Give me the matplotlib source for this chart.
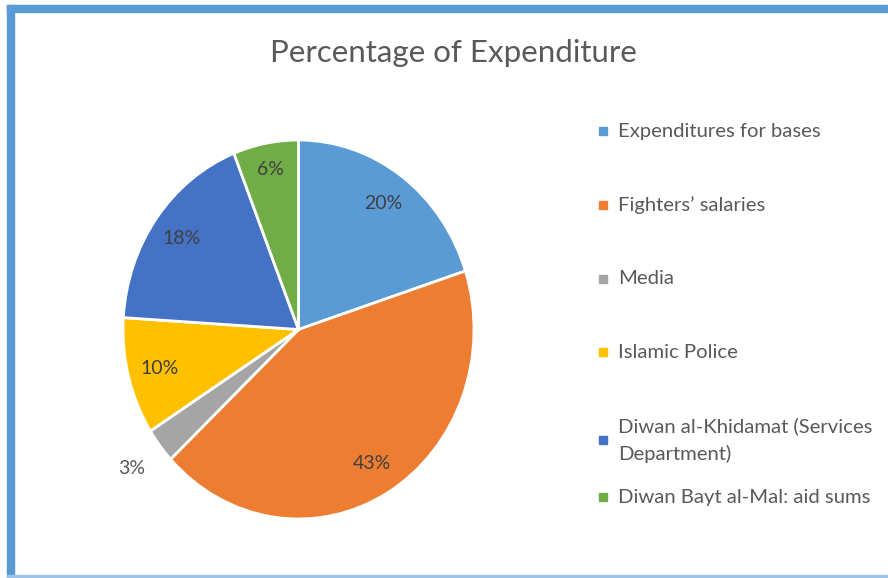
import matplotlib
matplotlib.use("Agg")
import matplotlib.pyplot as plt
from matplotlib.patches import Rectangle

# data
categories = ["Expenditures for bases", "Fighters\u2019 salaries", "Media",
              "Islamic Police", "Diwan al-Khidamat (Services\nDepartment)",
              "Diwan Bayt al-Mal: aid sums"]
shares = [20, 43, 3, 10, 18, 6]
colors = ["#5B9BD5", "#ED7D31", "#A5A5A5", "#FFC000", "#4472C4", "#70AD47"]

plt.rcParams["font.family"] = ["Lato", "DejaVu Sans"]

W, H = 888, 578
fig = plt.figure(figsize=(W / 100, H / 100), dpi=100)

# frame around the chart
fig.patches.append(Rectangle((7 / W, 0), 7 / W, 1 - 5 / H, transform=fig.transFigure,
                             color="#5B9BD5", zorder=0))
fig.patches.append(Rectangle((7 / W, 1 - 12 / H), 1, 7 / H, transform=fig.transFigure,
                             color="#5B9BD5", zorder=0))
fig.patches.append(Rectangle((7 / W, 1 / H), 1, 2 / H, transform=fig.transFigure,
                             color="#9DC3E6", zorder=0))

fig.text(453 / W, 1 - 53 / H, "Percentage of Expenditure", ha="center", va="center",
         fontsize=22.5, color="#595959")

# pie (the original is slightly stretched vertically)
cx, cy, rx, ry = 298.5, 329.5, 175.5, 189.5
ax = fig.add_axes([(cx - rx) / W, (H - cy - ry) / H, 2 * rx / W, 2 * ry / H])
wedges, texts, autotexts = ax.pie(
    shares, colors=colors, startangle=90, counterclock=False,
    autopct=lambda p: f"{p:.0f}%", pctdistance=0.82,
    wedgeprops=dict(edgecolor="white", linewidth=2),
    textprops=dict(fontsize=14, color="#404040"))
ax.set_xlim(-1, 1)
ax.set_ylim(-1, 1)
ax.set_aspect("auto")

# small slices: labels placed like the original (best fit)
for i, t in enumerate(autotexts):
    x, y = t.get_position()
    if shares[i] < 5:
        t.set_position((x * 1.2 / 0.82, y * 1.2 / 0.82))
        t.set_color("#595959")
    elif shares[i] < 8:
        t.set_position((x * 0.86 / 0.82, y * 0.86 / 0.82))
    t.set_clip_on(False)

# legend drawn by hand to follow the original spacing
legend_y = [131, 205, 279, 352, 440, 497]
for lab, col, ly in zip(categories, colors, legend_y):
    fig.patches.append(Rectangle((599 / W, (H - ly - 4) / H), 8 / W, 8 / H,
                                 transform=fig.transFigure, color=col))
    fig.text(618 / W, (H - ly) / H, lab, ha="left", va="center", fontsize=14.6,
             color="#595959", linespacing=1.6)

fig.savefig("out.png", dpi=100)
